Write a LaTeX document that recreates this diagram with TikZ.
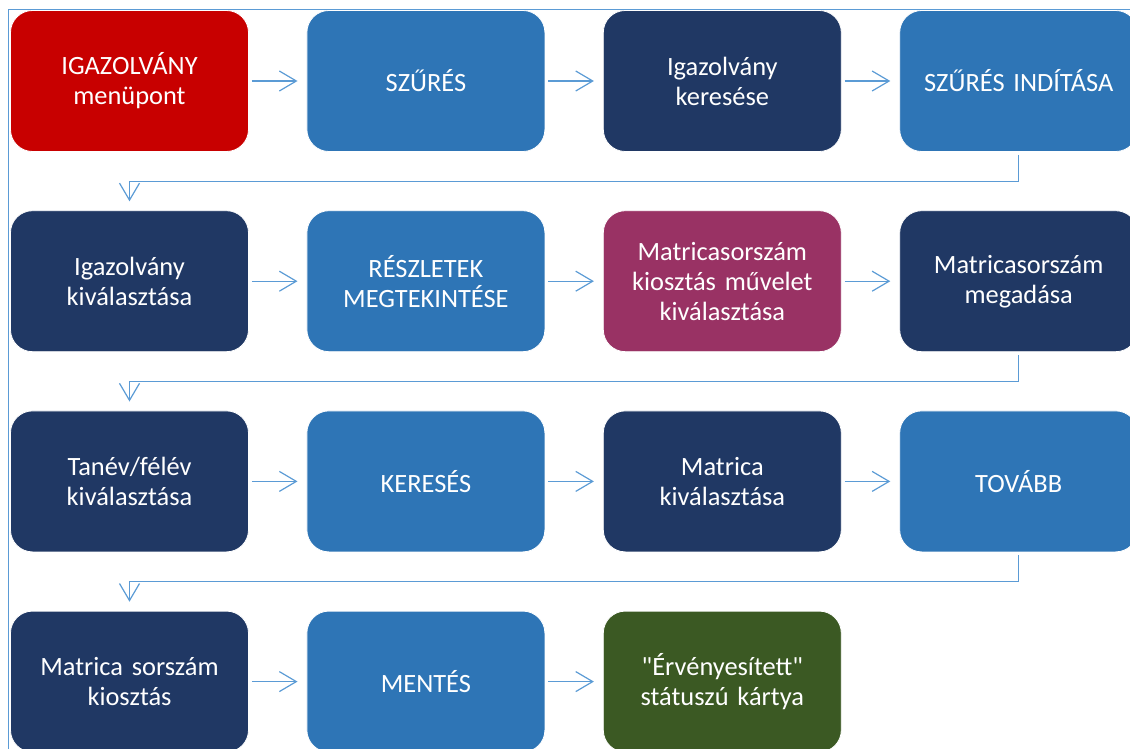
\documentclass[tikz,border=0pt]{standalone}
\usepackage{fontspec}
\setmainfont{Carlito}[WordSpace=0.8]
\usepackage{tikz}
\usetikzlibrary{arrows.meta,positioning}

\definecolor{flowred}{HTML}{C80000}
\definecolor{flowblue}{HTML}{2E75B6}
\definecolor{flownavy}{HTML}{203864}
\definecolor{flowplum}{HTML}{993264}
\definecolor{flowgreen}{HTML}{3B5923}
\definecolor{flowline}{HTML}{5B9BD5}

\tikzset{
  stepbox/.style={rounded corners=11pt, minimum width=119pt, minimum height=70.5pt,
    text width=112pt, align=center, text=white, draw=white, line width=0.4pt,
    font=\fontsize{13.2pt}{15pt}\selectfont},
  link/.style={->, draw=flowline, line width=0.6pt, shorten <=1.5pt, shorten >=4.5pt}
}

\begin{document}
\begin{tikzpicture}[x=0.5pt,y=-0.5pt,>={Straight Barb[length=8.5pt,width=10pt]},node distance=29.2pt and 28.8pt]
		\useasboundingbox (0,0) rectangle (1130,749);
		\draw[flowline, line width=0.6pt] (8.5,749) |- (1130,9.5);
		% row 1
		\node[stepbox,fill=flowred] (s_1) at (129.5,81) {IGAZOLVÁNY\\menüpont};
		\node[stepbox,fill=flowblue] [right=of s_1] (s_2) {SZŰRÉS};
		\node[stepbox,fill=flownavy] [right=of s_2] (s_3) {Igazolvány\\keresése};
		\node[stepbox,fill=flowblue] [right=of s_3] (s_4) {SZŰRÉS INDÍTÁSA};
		% row 2
		\node[stepbox,fill=flownavy] [below=of s_1] (s_5) {Igazolvány\\kiválasztása};
		\node[stepbox,fill=flowblue] [right=of s_5] (s_6) {RÉSZLETEK\\MEGTEKINTÉSE};
		\node[stepbox,fill=flowplum] [right=of s_6] (s_7) {Matricasorszám\\kiosztás művelet\\kiválasztása};
		\node[stepbox,fill=flownavy] [right=of s_7] (s_8) {Matricasorszám\\megadása};
		% row 3
		\node[stepbox,fill=flownavy] [below=of s_5] (s_9) {Tanév/félév\\kiválasztása};
		\node[stepbox,fill=flowblue] [right=of s_9] (s_10) {KERESÉS};
		\node[stepbox,fill=flownavy] [right=of s_10] (s_11) {Matrica\\kiválasztása};
		\node[stepbox,fill=flowblue] [right=of s_11] (s_12) {TOVÁBB};
		% row 4
		\node[stepbox,fill=flownavy] [below=of s_9] (s_13) {Matrica sorszám\\kiosztás};
		\node[stepbox,fill=flowblue] [right=of s_13] (s_14) {MENTÉS};
		\node[stepbox,fill=flowgreen] [right=of s_14] (s_15) {\textquotedbl Érvényesített\textquotedbl\\státuszú kártya};
		\path[link]
			(s_1) edge (s_2)
			(s_2) edge (s_3)
			(s_3) edge (s_4)
			(s_5) edge (s_6)
			(s_6) edge (s_7)
			(s_7) edge (s_8)
			(s_9) edge (s_10)
			(s_10) edge (s_11)
			(s_11) edge (s_12)
			(s_13) edge (s_14)
			(s_14) edge (s_15);
		\draw[link] (s_4.south) -- ++(0,29.5) -| (s_5.north);
		\draw[link] (s_8.south) -- ++(0,29.5) -| (s_9.north);
		\draw[link] (s_12.south) -- ++(0,29.5) -| (s_13.north);
	\end{tikzpicture}
\end{document}
